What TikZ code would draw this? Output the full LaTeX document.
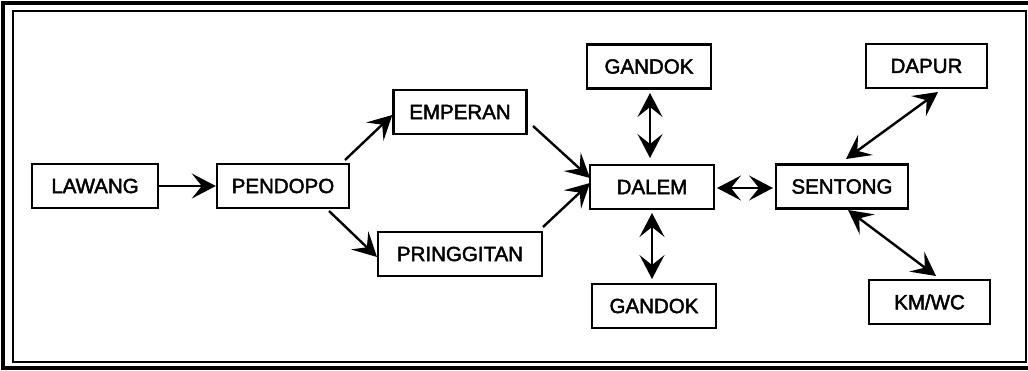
\documentclass[tikz,border=0pt]{standalone}
\usepackage{fontspec}
\setmainfont[FakeBold=2.2]{Liberation Sans}
\usetikzlibrary{arrows.meta}
\begin{document}
\begin{tikzpicture}[x=1pt,y=-1pt,
  room/.style={draw,line width=2.4pt,minimum height=44pt,inner sep=0pt,font=\fontsize{20.5}{21}\selectfont},
  conn/.style={line width=2.4pt,-{Stealth[length=24pt,width=25pt,inset=10pt]}},
  conn2/.style={line width=2.4pt,{Stealth[length=24pt,width=25pt,inset=10pt]}-{Stealth[length=24pt,width=25pt,inset=10pt]}}]
\useasboundingbox (0,0) rectangle (1028,370);
\draw[line width=4pt] (3,2.5) rectangle (1032,367.5);
\draw[line width=2pt] (12.5,11) rectangle (1025.5,362);
\node[room,minimum width=126pt] (lawang) at (95,186) {LAWANG};
\node[room,minimum width=132pt] (pendopo) at (283,186) {PENDOPO};
\node[room,minimum width=133pt] (emperan) at (460,112) {EMPERAN};
\node[room,minimum width=164pt] (pring) at (460,254) {PRINGGITAN};
\node[room,minimum width=124pt] (dalem) at (652,187) {DALEM};
\node[room,minimum width=124pt] (gandok1) at (649,66.5) {GANDOK};
\node[room,minimum width=124pt] (gandok2) at (654,306) {GANDOK};
\node[room,minimum width=132pt] (sentong) at (842,186.5) {SENTONG};
\node[room,minimum width=121pt] (dapur) at (926.5,66) {DAPUR};
\node[room,minimum width=121pt] (kmwc) at (929.5,302) {KM/WC};
\coordinate (p1) at (345,160);
\coordinate (p2) at (329,211);
\coordinate (e1) at (533,126);
\coordinate (r1) at (543,227);
\draw[conn] (lawang.east) -- (pendopo.west);
\draw[conn] (p1) -- (emperan.west |- 0,115);
\draw[conn] (p2) -- (377,257);
\draw[conn] (e1) -- (590,178);
\draw[conn] (r1) -- (590,183);
\draw[conn2] (650,93) -- (650,158);
\draw[conn2] (652,213) -- (652,279);
\draw[conn2] (717,188) -- (773,188);
\draw[conn2] (846,159) -- (938,92);
\draw[conn2] (848,210) -- (936,276);
\end{tikzpicture}
\end{document}
